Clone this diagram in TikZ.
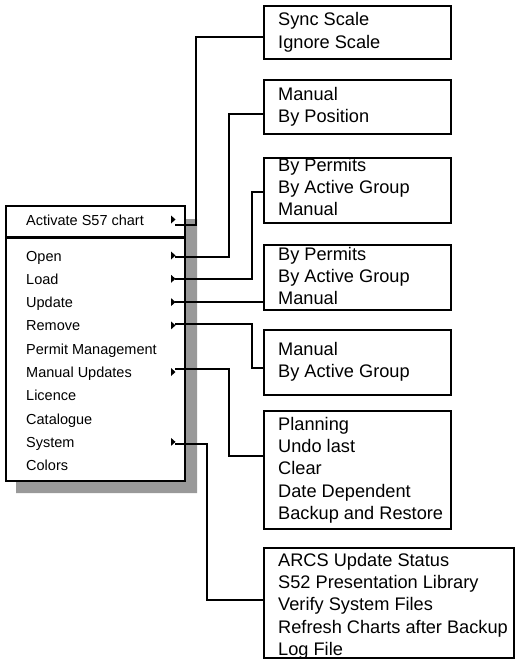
\documentclass[tikz,border=0pt]{standalone}
\usepackage{fontspec}
\setmainfont{Liberation Sans}
\definecolor{shadowgray}{RGB}{153,153,153}
% one line of a submenu box per node: name, first baseline, lines
\newcommand\submenulines[3]{%
  \foreach \l [count=\i] in {#3} {%
    \node[boxtext] (#1-\i) at (278,{#2+(\i-1)*22.1}) {\l};
  }%
}
\begin{document}
\begin{tikzpicture}[x=1pt,y=-1pt,
  submenu/.style={draw, line width=1.6pt, fill=white, inner sep=0pt, anchor=north west},
  boxtext/.style={anchor=base west, inner sep=0pt, font=\fontsize{18.2}{22}\selectfont},
  itemtext/.style={anchor=base west, inner sep=0pt, font=\fontsize{14.5}{17}\selectfont},
  wire/.style={line width=1.4pt},
  menuedge/.style={line width=2.2pt}]
\useasboundingbox (0,0) rectangle (517,666);

% drop shadow of the popup menu
\fill[shadowgray] (185,219) -- (197,219) -- (197,493) -- (16,493) -- (16,482) -- (185,482) -- cycle;

% popup menu frame
\draw[menuedge, fill=white] (6,206) rectangle (185,481);
\draw[menuedge] (6,237.5) -- (185,237.5);

% menu entries
\node[itemtext] (m0) at (26,225) {Activate S57 chart};
\foreach \t [count=\i] in {Open,Load,Update,Remove,Permit Management,Manual Updates,Licence,Catalogue,System,Colors} {
  \node[itemtext] (m\i) at (26,{261+(\i-1)*23.3}) {\t};
}

% submenu markers
\foreach \b in {225,261,284.3,307.6,330.9,377.5,447.4} {
  \fill (171,{\b-5.5-4}) -- (175.5,{\b-5.5}) -- (171,{\b-5.5+4}) -- cycle;
}

% submenu boxes
\node[submenu, minimum width=187pt, minimum height=53pt] (b1) at (263,5) {};
\node[submenu, minimum width=187pt, minimum height=54pt] (b2) at (263,79) {};
\node[submenu, minimum width=187pt, minimum height=65pt] (b3) at (263,157) {};
\node[submenu, minimum width=187pt, minimum height=65pt] (b4) at (263,244) {};
\node[submenu, minimum width=187pt, minimum height=65pt] (b5) at (263,329) {};
\node[submenu, minimum width=187pt, minimum height=118pt] (b6) at (263,410) {};
\node[submenu, minimum width=250pt, minimum height=110pt] (b7) at (263,547) {};

\submenulines{t1}{26}{Sync Scale,Ignore Scale}
\submenulines{t2}{100.7}{Manual,By Position}
\submenulines{t3}{171.7}{By Permits,By Active Group,Manual}
\submenulines{t4}{260}{By Permits,By Active Group,Manual}
\submenulines{t5}{355.7}{Manual,By Active Group}
\submenulines{t6}{430.7}{Planning,Undo last,Clear,Date Dependent,Backup and Restore}
\submenulines{t7}{566.7}{ARCS Update Status,S52 Presentation Library,Verify System Files,Refresh Charts after Backup,Log File}

% connector start points and bends
\coordinate (a1) at (175,225);   \coordinate (j1) at (196,37);
\coordinate (a2) at (175,257);   \coordinate (j2) at (229,114);
\coordinate (a3) at (175,279);   \coordinate (j3) at (252,192);
\coordinate (a4) at (175,302);
\coordinate (a5) at (175,324);   \coordinate (j5) at (252,368);
\coordinate (a6) at (175,369);   \coordinate (j6) at (229,456);
\coordinate (a7) at (175,444);   \coordinate (j7) at (207,600);

\draw[wire] (a1) -| (j1) -- (j1 -| b1.west);
\draw[wire] (a2) -| (j2) -- (j2 -| b2.west);
\draw[wire] (a3) -| (j3) -- (j3 -| b3.west);
\draw[wire] (a4) -- (a4 -| b4.west);
\draw[wire] (a5) -| (j5) -- (j5 -| b5.west);
\draw[wire] (a6) -| (j6) -- (j6 -| b6.west);
\draw[wire] (a7) -| (j7) -- (j7 -| b7.west);
\end{tikzpicture}
\end{document}
